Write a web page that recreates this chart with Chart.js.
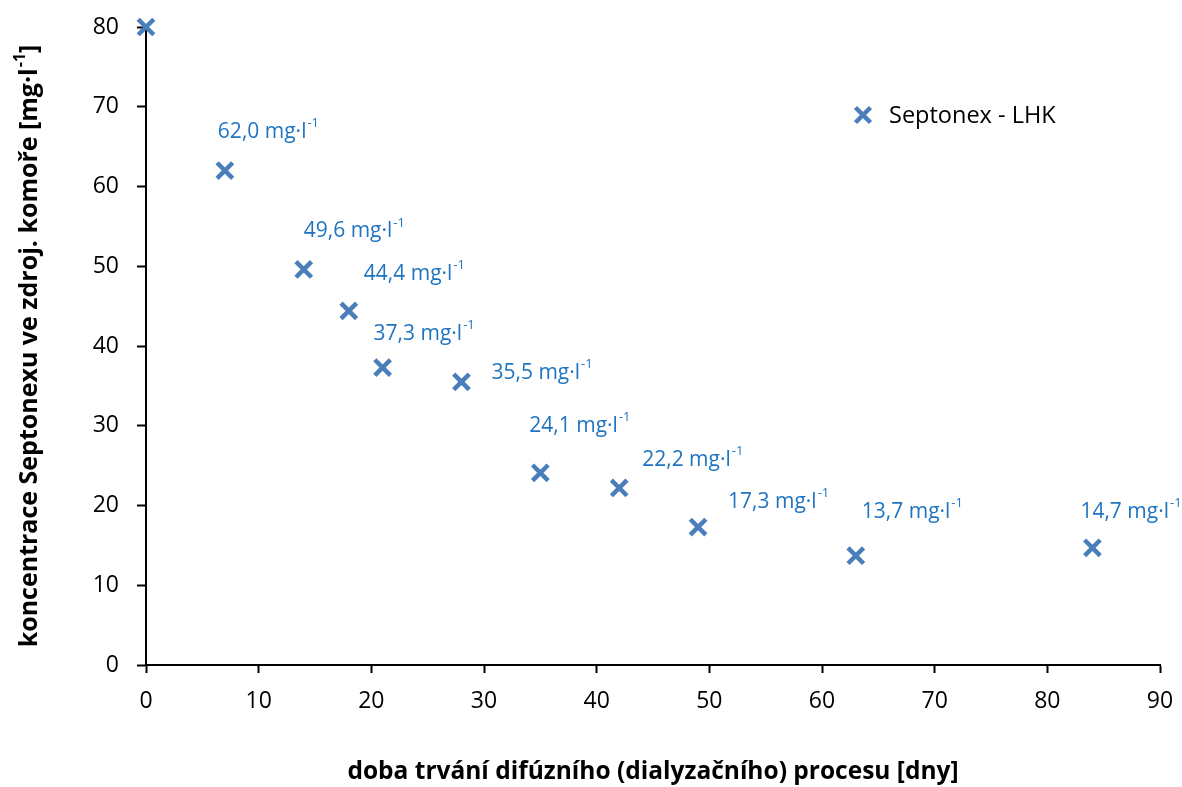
<!DOCTYPE html>
<html>
<head>
<meta charset="utf-8">
<script src="https://cdn.jsdelivr.net/npm/chart.js@4.4.1/dist/chart.umd.min.js"></script>
<style>
  html, body { margin: 0; padding: 0; background: #fff; }
  #wrap { width: 1182px; height: 787px; }
</style>
</head>
<body>
<div id="wrap"><canvas id="chart" width="1182" height="787"></canvas></div>
<script>
// data
const days = [0, 7, 14, 18, 21, 28, 35, 42, 49, 63, 84];
const conc = [80, 62.0, 49.6, 44.4, 37.3, 35.5, 24.1, 22.2, 17.3, 13.7, 14.7];
const pointLabels = ['', '62,0', '49,6', '44,4', '37,3', '35,5', '24,1', '22,2', '17,3', '13,7', '14,7'];
const seriesName = 'Septonex - LHK';

// label offsets from point (px), left edge / middle
const labelOffsets = [null, [-7, -39], [0, -38], [15, -37], [-9, -34], [30, -9], [-11, -47], [23, -28], [30, -25], [6, -44], [-12, -36]];

const markerColor = '#4a7ebb';
const labelColor = '#1f74c1';
const fontFam = '"Open Sans", "Noto Sans", sans-serif';

// 上标文字
function drawSup(ctx, base, sup, x, y, size, weight) {
  ctx.font = weight + ' ' + size + 'px ' + fontFam;
  ctx.fillText(base, x, y);
  const w = ctx.measureText(base).width;
  ctx.font = weight + ' ' + Math.round(size * 0.62) + 'px ' + fontFam;
  ctx.fillText(sup, x + w + 1, y - size * 0.4);
  return w + 1 + ctx.measureText(sup).width;
}

// 数据标签 + 图例 + y 轴标题
const labelPlugin = {
  id: 'labels',
  afterDatasetsDraw(chart) {
    const ctx = chart.ctx;
    const meta = chart.getDatasetMeta(0);
    ctx.save();
    ctx.fillStyle = labelColor;
    ctx.textBaseline = 'middle';
    ctx.textAlign = 'left';
    meta.data.forEach((pt, i) => {
      if (!pointLabels[i]) return;
      const off = labelOffsets[i];
      drawSup(ctx, pointLabels[i] + ' mg·l', '-1', pt.x + off[0], pt.y + off[1], 21, 'normal');
    });

    // legend
    const lx = 863, ly = 115;
    ctx.strokeStyle = markerColor;
    ctx.lineWidth = 4.5;
    const r = 7.5;
    ctx.beginPath();
    ctx.moveTo(lx - r, ly - r); ctx.lineTo(lx + r, ly + r);
    ctx.moveTo(lx + r, ly - r); ctx.lineTo(lx - r, ly + r);
    ctx.stroke();
    ctx.fillStyle = '#000';
    ctx.font = '23.5px ' + fontFam;
    ctx.fillText(seriesName, 889, ly + 1);

    // y axis title
    const area = chart.chartArea;
    const cy = (area.top + area.bottom) / 2;
    const fs = 25;
    ctx.translate(30, cy);
    ctx.rotate(-Math.PI / 2);
    ctx.font = 'bold ' + fs + 'px ' + fontFam;
    const base = 'koncentrace Septonexu ve zdroj. komoře [mg·l';
    const wBase = ctx.measureText(base).width;
    const wEnd = ctx.measureText(']').width;
    ctx.font = 'bold ' + Math.round(fs * 0.62) + 'px ' + fontFam;
    const wSup = ctx.measureText('-1').width;
    const total = wBase + 1 + wSup + wEnd;
    const x0 = -total / 2;
    drawSup(ctx, base, '-1', x0, 0, fs, 'bold');
    ctx.font = 'bold ' + fs + 'px ' + fontFam;
    ctx.fillText(']', x0 + wBase + 1 + wSup, 0);
    ctx.restore();
  }
};

new Chart(document.getElementById('chart'), {
  type: 'scatter',
  data: {
    datasets: [{
      label: seriesName,
      data: days.map((d, i) => ({ x: d, y: conc[i] })),
      pointStyle: 'crossRot',
      pointRadius: 11,
      pointHoverRadius: 11,
      pointBorderWidth: 4.5,
      borderColor: markerColor,
      backgroundColor: markerColor,
      clip: false
    }]
  },
  options: {
    responsive: false,
    animation: false,
    layout: { padding: { top: 27, right: 22, left: 0, bottom: 0 } },
    plugins: {
      legend: { display: false },
      tooltip: { enabled: false }
    },
    scales: {
      x: {
        type: 'linear',
        min: 0, max: 90,
        ticks: { stepSize: 10, color: '#000', font: { size: 23, family: fontFam }, padding: 15 },
        grid: { drawOnChartArea: false, tickLength: 8, color: '#000', tickWidth: 2 },
        border: { color: '#000', width: 2 },
        title: {
          display: true,
          text: 'doba trvání difúzního (dialyzačního) procesu [dny]',
          color: '#000',
          font: { size: 24.5, weight: 'bold', family: fontFam },
          padding: { top: 0, bottom: 0 }
        },
        afterFit(scale) {
          scale.height = 122;
          scale.paddingLeft = 0;
          scale.paddingRight = 0;
        }
      },
      y: {
        min: 0, max: 80,
        ticks: { stepSize: 10, color: '#000', font: { size: 23, family: fontFam }, padding: 18 },
        grid: { drawOnChartArea: false, tickLength: 9, color: '#000', tickWidth: 2 },
        border: { color: '#000', width: 2 },
        afterFit(scale) {
          scale.width = 146;
          scale.paddingTop = 0;
          scale.paddingBottom = 0;
        }
      }
    }
  },
  plugins: [labelPlugin]
});
</script>
</body>
</html>
